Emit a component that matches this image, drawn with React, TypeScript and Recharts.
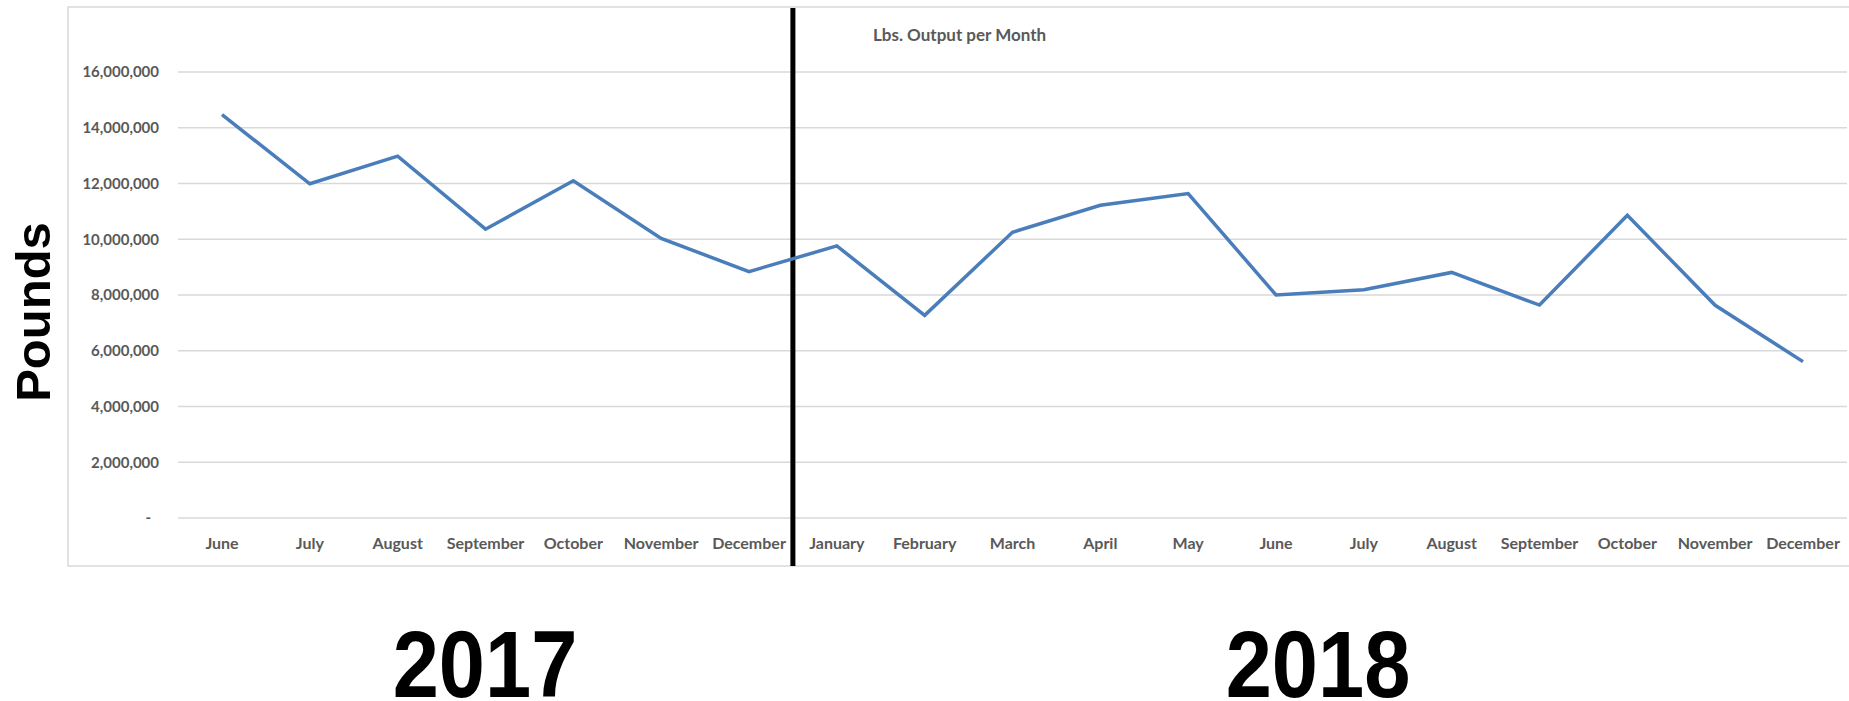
import React from "react"
import { CartesianGrid, Line, LineChart, ReferenceLine, XAxis, YAxis } from "recharts"

const months2017 = ["June", "July", "August", "September", "October", "November", "December"]
const months2018 = [
  "January", "February", "March", "April", "May", "June",
  "July", "August", "September", "October", "November", "December",
]
const pounds2017 = [14470000, 11990000, 12980000, 10360000, 12100000, 10030000, 8840000]
const pounds2018 = [
  9760000, 7270000, 10250000, 11220000, 11640000, 8000000,
  8190000, 8810000, 7640000, 10860000, 7630000, 5610000,
]
const yTicks = [0, 2000000, 4000000, 6000000, 8000000, 10000000, 12000000, 14000000, 16000000]
const years = ["2017", "2018"]

// slot = centre of each month's band on a 0..19 numeric scale, used to place the year divider
const data = [
  ...months2017.map((m, i) => ({ month: m, pounds: pounds2017[i] })),
  ...months2018.map((m, i) => ({ month: m, pounds: pounds2018[i] })),
].map((d, i) => ({ ...d, slot: i + 0.5 }))

const W = 1849
const H = 701
const labelFont = "Lato, 'Open Sans', sans-serif"
const gray = "#595959"

function YTick(props: any) {
  const { x, y, payload } = props
  const v = payload.value as number
  return (
    <text
      x={v === 0 ? x - 8 : x}
      y={y}
      dy="0.355em"
      textAnchor="end"
      fill={gray}
      fontFamily={labelFont}
      fontWeight={700}
      fontSize={15}
    >
      {v === 0 ? "-" : v.toLocaleString("en-US")}
    </text>
  )
}

export default function App() {
  return (
    <div style={{ position: "absolute", left: 0, top: 0, width: W, height: H, background: "#fff" }}>
      <svg width={W} height={H} style={{ position: "absolute", left: 0, top: 0 }}>
        <rect x={68} y={7} width={1800} height={559} fill="none" stroke="#d9d9d9" strokeWidth={1.5} />
      </svg>
      <div style={{ position: "absolute", left: 0, top: 0 }}>
        <LineChart
          width={W}
          height={H}
          data={data}
          margin={{ top: 72, right: 2, left: 68, bottom: 135 }}
        >
          <CartesianGrid vertical={false} stroke="#d9d9d9" strokeWidth={1.3} />
          <XAxis
            xAxisId="cat"
            dataKey="month"
            axisLine={false}
            tickLine={false}
            tickSize={0}
            tickMargin={20}
            interval={0}
            height={48}
            padding={{ left: 44, right: 44 }}
            tick={{ fill: gray, fontFamily: labelFont, fontWeight: 700, fontSize: 16 }}
          />
          <XAxis
            xAxisId="idx"
            dataKey="slot"
            type="number"
            domain={[0, 19]}
            allowDataOverflow
            hide
          />
          <YAxis
            domain={[0, 16000000]}
            ticks={yTicks}
            axisLine={false}
            tickLine={false}
            tickSize={0}
            tickMargin={19}
            width={110}
            tick={<YTick />}
          />
          <ReferenceLine
            xAxisId="idx"
            segment={[
              { x: 7, y: -1722000 },
              { x: 7, y: 18296000 },
            ]}
            ifOverflow="visible"
            stroke="#000"
            strokeWidth={5}
          />
          <Line
            xAxisId="cat"
            type="linear"
            dataKey="pounds"
            stroke="#4a7ebb"
            strokeWidth={3.5}
            dot={false}
            isAnimationActive={false}
          />
        </LineChart>
      </div>
      <svg width={W} height={H} style={{ position: "absolute", left: 0, top: 0, pointerEvents: "none" }}>
        <text x={873} y={41} fill={gray} fontFamily={labelFont} fontWeight={700} fontSize={17}>
          Lbs. Output per Month
        </text>
        <text
          transform="translate(50,312) rotate(-90)"
          textAnchor="middle"
          fill="#000"
          fontFamily="'Liberation Sans', Arial, sans-serif"
          fontWeight={700}
          fontSize={49}
        >
          Pounds
        </text>
        {years.map((yr, i) => (
          <text
            key={yr}
            transform={`translate(${i === 0 ? 485 : 1318},697) scale(1,1.13)`}
            textAnchor="middle"
            fill="#000"
            fontFamily="'Liberation Sans', Arial, sans-serif"
            fontWeight={700}
            fontSize={83}
          >
            {yr}
          </text>
        ))}
      </svg>
    </div>
  )
}
